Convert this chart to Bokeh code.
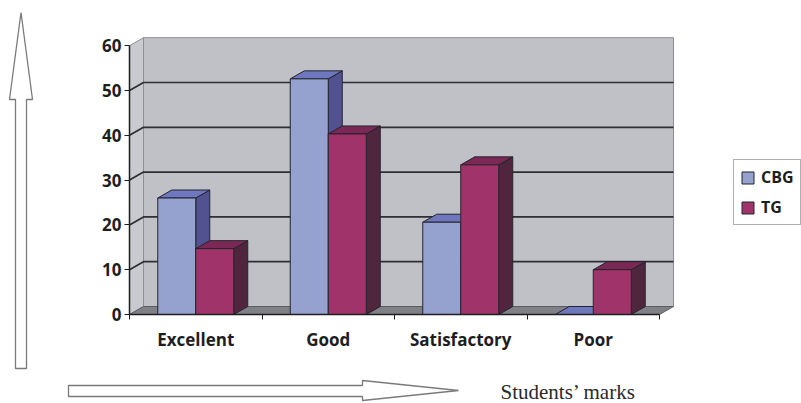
from bokeh.plotting import figure
from bokeh.models import Range1d, FixedTicker, Legend, LegendItem, PolyAnnotation, Label
from bokeh.embed import file_html
from bokeh.resources import INLINE

# ---- data -------------------------------------------------------------
categories = ["Excellent", "Good", "Satisfactory", "Poor"]
cbg = [26, 52.6, 20.6, 0]
tg = [14.7, 40.3, 33.4, 10]
series_names = ["CBG", "TG"]
y_ticks = [0, 10, 20, 30, 40, 50, 60]
axis_caption = "Students\u2019 marks"

# ---- geometry (pixels) ------------------------------------------------
W, H = 801, 403
ORIGIN_X, ORIGIN_Y = 129, 314      # where x=0, y=0 sit on the canvas
CAT_PX = 132.5                     # width of one category slot
UNIT_PX = 4.48                     # pixels per unit on the value axis
DEPTH_X_PX, DEPTH_Y_PX = 14, 8     # 3-D depth offset
BAR_PX = 38

n = len(categories)
DX = DEPTH_X_PX / CAT_PX
DY = DEPTH_Y_PX / UNIT_PX
BW = BAR_PX / CAT_PX
YMAX = y_ticks[-1]


def sx(px):
    return (px - ORIGIN_X) / CAT_PX


def sy(py):
    return (ORIGIN_Y - py) / UNIT_PX


# The frame fills the whole canvas; axes are pinned at the origin.
p = figure(width=W, height=H, output_backend="svg", toolbar_location=None,
           x_range=Range1d(sx(0), sx(W)), y_range=Range1d(sy(H), sy(0)),
           min_border=0)
p.min_border_left = p.min_border_right = p.min_border_top = p.min_border_bottom = 0
p.grid.visible = False
p.outline_line_color = None
p.background_fill_color = "white"
p.border_fill_color = "white"

# ---- walls, grid and floor -------------------------------------------
p.patch([0, 0, DX, DX], [0, YMAX, YMAX + DY, DY],
        fill_color="#c9cacf", line_color="#8e8f95", line_width=1)
p.patch([DX, n + DX, n + DX, DX], [DY, DY, YMAX + DY, YMAX + DY],
        fill_color="#c0c1c7", line_color="#8e8f95", line_width=1)
grid_levels = y_ticks[1:-1]
p.multi_line(xs=[[0, DX, n + DX] for _ in grid_levels],
             ys=[[k, k + DY, k + DY] for k in grid_levels],
             line_color="#2e2e33", line_width=1.7)
p.patch([0, n, n + DX, DX], [0, 0, DY, DY],
        fill_color="#808187", line_color="#5c5c62", line_width=1)

# ---- 3-D columns -----------------------------------------------------
styles = {
    "CBG": dict(front="#95a1cf", top="#6f77be", side="#525290"),
    "TG": dict(front="#a0346a", top="#7b2856", side="#50253e"),
}
EDGE = "#24242c"


def draw_series(values, offset, st):
    left = [i + 0.5 + offset for i in range(n)]
    right = [x + BW for x in left]
    side_xs = [[r, r + DX, r + DX, r] for r in right]
    side_ys = [[0, DY, v + DY, v] for v in values]
    top_xs = [[l, r, r + DX, l + DX] for l, r in zip(left, right)]
    top_ys = [[v, v, v + DY, v + DY] for v in values]
    p.patches(side_xs, side_ys, fill_color=st["side"], line_color=EDGE, line_width=1)
    p.patches(top_xs, top_ys, fill_color=st["top"], line_color=EDGE, line_width=1)
    return p.quad(left=left, right=right, bottom=0, top=values,
                  fill_color=st["front"], line_color=EDGE, line_width=1)


r_cbg = draw_series(cbg, -BW, styles["CBG"])
r_tg = draw_series(tg, 0.0, styles["TG"])

# ---- axes ------------------------------------------------------------
FONT = "Open Sans"
INK = "#1e1e1e"
yax = p.yaxis[0]
yax.fixed_location = 0
yax.bounds = (0, YMAX)
yax.ticker = FixedTicker(ticks=y_ticks)
yax.major_label_text_font = FONT
yax.major_label_text_font_style = "bold"
yax.major_label_text_font_size = "17px"
yax.major_label_text_color = INK
yax.major_tick_out = 5
yax.major_tick_in = 0
yax.minor_tick_line_color = None
yax.major_tick_line_color = INK
yax.axis_line_color = INK
yax.axis_line_width = 1.5
yax.major_label_standoff = 3

xax = p.xaxis[0]
xax.fixed_location = 0
xax.bounds = (0, n)
centers = [i + 0.5 for i in range(n)]
xax.ticker = FixedTicker(ticks=centers, minor_ticks=list(range(n + 1)))
xax.major_label_overrides = {c: name for c, name in zip(centers, categories)}
xax.major_tick_line_color = None
xax.minor_tick_out = 5
xax.minor_tick_in = 0
xax.minor_tick_line_color = INK
xax.axis_line_color = INK
xax.axis_line_width = 1.5
xax.major_label_text_font = FONT
xax.major_label_text_font_style = "bold"
xax.major_label_text_font_size = "17px"
xax.major_label_text_color = INK
xax.major_label_standoff = 7

# ---- legend ----------------------------------------------------------
legend = Legend(items=[LegendItem(label=series_names[0], renderers=[r_cbg]),
                       LegendItem(label=series_names[1], renderers=[r_tg])],
                location=(733, H - 225), orientation="vertical",
                border_line_color="#5e5e5e", border_line_width=1,
                background_fill_color="white", background_fill_alpha=1,
                padding=6, spacing=8, margin=0,
                glyph_width=15, glyph_height=15, label_standoff=6,
                label_text_font=FONT, label_text_font_style="bold",
                label_text_font_size="16px", label_text_color=INK)
p.add_layout(legend)

# ---- direction arrows and caption ------------------------------------
ARROW = dict(fill_color="white", fill_alpha=1, line_color="#7a7a7a",
             line_alpha=1, line_width=1.3)
v_arrow = [(15, 368), (26, 368), (26, 99), (32, 99), (20.5, 12), (9, 99), (15, 99)]
h_arrow = [(68, 385), (362, 385), (362, 380), (458, 390), (362, 400), (362, 396), (68, 396)]
for pts in (v_arrow, h_arrow):
    p.add_layout(PolyAnnotation(xs=[sx(a) for a, _ in pts], ys=[sy(b) for _, b in pts], **ARROW))

p.add_layout(Label(x=sx(500), y=sy(391), text=axis_caption,
                   text_font="Liberation Serif", text_font_size="21px",
                   text_color="#2a2a2a", text_baseline="middle", text_align="left"))

open("out.html", "w").write(file_html(p, INLINE))
